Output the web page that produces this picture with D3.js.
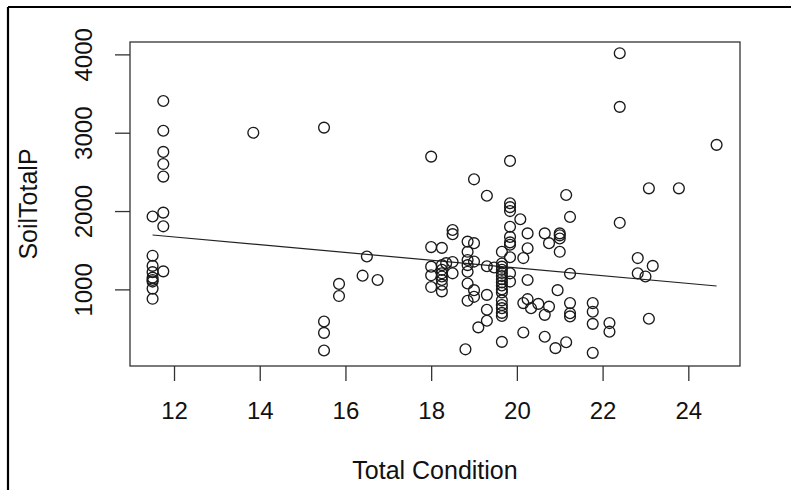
<!DOCTYPE html>
<html>
<head>
<meta charset="utf-8">
<script src="https://cdn.jsdelivr.net/npm/d3@7"></script>
<style>
  body { margin: 0; background: #fff; }
  text { font-family: "Liberation Sans", Arial, sans-serif; fill: #111; }
</style>
</head>
<body>
<div class="scatter"></div>
<script>
// Total Condition values (x) and the SoilTotalP readings at each of them
var conditionLevels = [11.5, 11.75, 13.85, 15.5, 15.85, 16.4, 16.5, 16.75, 18.0, 18.25, 18.35, 18.5, 18.8, 18.85,
                       19.0, 19.1, 19.3, 19.47, 19.65, 19.84, 20.08, 20.15, 20.25, 20.33, 20.5, 20.65, 20.75,
                       20.9, 20.95, 21.0, 21.15, 21.24, 21.77, 22.16, 22.4, 22.82, 23.0, 23.08, 23.17, 23.78, 24.66];
var soilTotalP = [
    [1930, 1430, 1300, 1220, 1150, 1120, 1100, 1010, 880],
    [3405, 3025, 2755, 2600, 2440, 1980, 1805, 1230],
    [3000],
    [3065, 590, 445, 220],
    [1070, 915],
    [1175],
    [1420],
    [1120],
    [2695, 1540, 1290, 1180, 1030],
    [1530, 1310, 1250, 1205, 1165, 1120, 1060, 975],
    [1335],
    [1758, 1705, 1350, 1205],
    [235],
    [1610, 1480, 1375, 1310, 1225, 1075, 855],
    [2405, 1590, 1355, 990, 905],
    [515],
    [2195, 1295, 930, 740, 600],
    [1280],
    [1480, 1330, 1290, 1250, 1210, 1170, 1130, 1090, 1050, 1000, 960, 860, 800, 760, 700, 660, 330],
    [2640, 2100, 2050, 2000, 1800, 1670, 1600, 1570, 1410, 1205, 1100],
    [1895],
    [1400, 825, 450],
    [1715, 1525, 1120, 875],
    [760],
    [815],
    [1715, 675, 395],
    [1590, 780],
    [250],
    [990],
    [1715, 1690, 1650, 1480],
    [2205, 325],
    [1925, 1200, 825, 695, 655],
    [825, 715, 560, 190],
    [570, 460],
    [4015, 3330, 1850],
    [1400, 1205],
    [1165],
    [2290, 625],
    [1300],
    [2290],
    [2845]
];
// fitted line, read at its two ends
var fitX = [11.5, 24.66];
var fitY = [1694, 1043];

var xTicks = [12, 14, 16, 18, 20, 22, 24];
var yTicks = [1000, 2000, 3000, 4000];
var xTitle = "Total Condition";
var yTitle = "SoilTotalP";

var w = 791, h = 490;
var plotLeft = 130, plotRight = 740, plotTop = 42, plotBottom = 366;

var svg = d3.select(".scatter").append("svg")
            .attr("width", w)
            .attr("height", h);

// outer frame (top and left edges only)
svg.append("line").attr("x1", 8).attr("y1", 7).attr("x2", w).attr("y2", 7)
   .attr("stroke", "#000").attr("stroke-width", 2.2);
svg.append("line").attr("x1", 8).attr("y1", 7).attr("x2", 8).attr("y2", h)
   .attr("stroke", "#000").attr("stroke-width", 2.2);

var xScale = d3.scaleLinear().domain([10.973, 25.206]).range([plotLeft, plotRight]);
var yScale = d3.scaleLinear().domain([22, 4158]).range([plotBottom, plotTop]);

var points = [];
conditionLevels.forEach(function(c, i) {
    soilTotalP[i].forEach(function(v) { points.push([c, v]); });
});

// axes
var xAxis = d3.axisBottom(xScale).tickValues(xTicks).tickSize(15).tickPadding(7).tickFormat(d3.format("d"));
var yAxis = d3.axisLeft(yScale).tickValues(yTicks).tickSize(15).tickPadding(7).tickFormat(d3.format("d"));

var gx = svg.append("g").attr("transform", `translate(0,${plotBottom})`).call(xAxis);
var gy = svg.append("g").attr("transform", `translate(${plotLeft},0)`).call(yAxis);

[gx, gy].forEach(function(g) {
    g.select(".domain").remove();
    g.selectAll(".tick line").attr("stroke", "#333").attr("stroke-width", 1.3);
    g.selectAll(".tick text").attr("font-size", 24).attr("fill", "#111")
     .style("font-family", "'Liberation Sans', Arial, sans-serif");
});
gx.selectAll(".tick text").attr("y", 53).attr("dy", null);
gy.selectAll(".tick text")
  .attr("text-anchor", "middle")
  .attr("x", null).attr("dy", null)
  .attr("transform", "translate(-38,0) rotate(-90)");

// plot box
svg.append("rect")
   .attr("x", plotLeft).attr("y", plotTop)
   .attr("width", plotRight - plotLeft).attr("height", plotBottom - plotTop)
   .attr("fill", "none").attr("stroke", "#333").attr("stroke-width", 1.3);

// regression line
var line = d3.line()
             .x(function(d) { return xScale(d[0]); })
             .y(function(d) { return yScale(d[1]); });
svg.append("path")
   .datum(fitX.map(function(x, i) { return [x, fitY[i]]; }))
   .attr("fill", "none")
   .attr("stroke", "#222")
   .attr("stroke-width", 1.2)
   .attr("d", line);

// points
svg.selectAll(".pt")
   .data(points)
   .enter()
   .append("circle")
   .attr("class", "pt")
   .attr("cx", function(d) { return xScale(d[0]); })
   .attr("cy", function(d) { return yScale(d[1]); })
   .attr("r", 5.4)
   .attr("fill", "none")
   .attr("stroke", "#1a1a1a")
   .attr("stroke-width", 1.35);

// axis titles
svg.append("text")
   .attr("x", (plotLeft + plotRight) / 2)
   .attr("y", 479)
   .attr("text-anchor", "middle")
   .attr("font-size", 25)
   .text(xTitle);

svg.append("text")
   .attr("transform", `translate(37,${(plotTop + plotBottom) / 2}) rotate(-90)`)
   .attr("text-anchor", "middle")
   .attr("font-size", 25)
   .text(yTitle);
</script>
</body>
</html>
